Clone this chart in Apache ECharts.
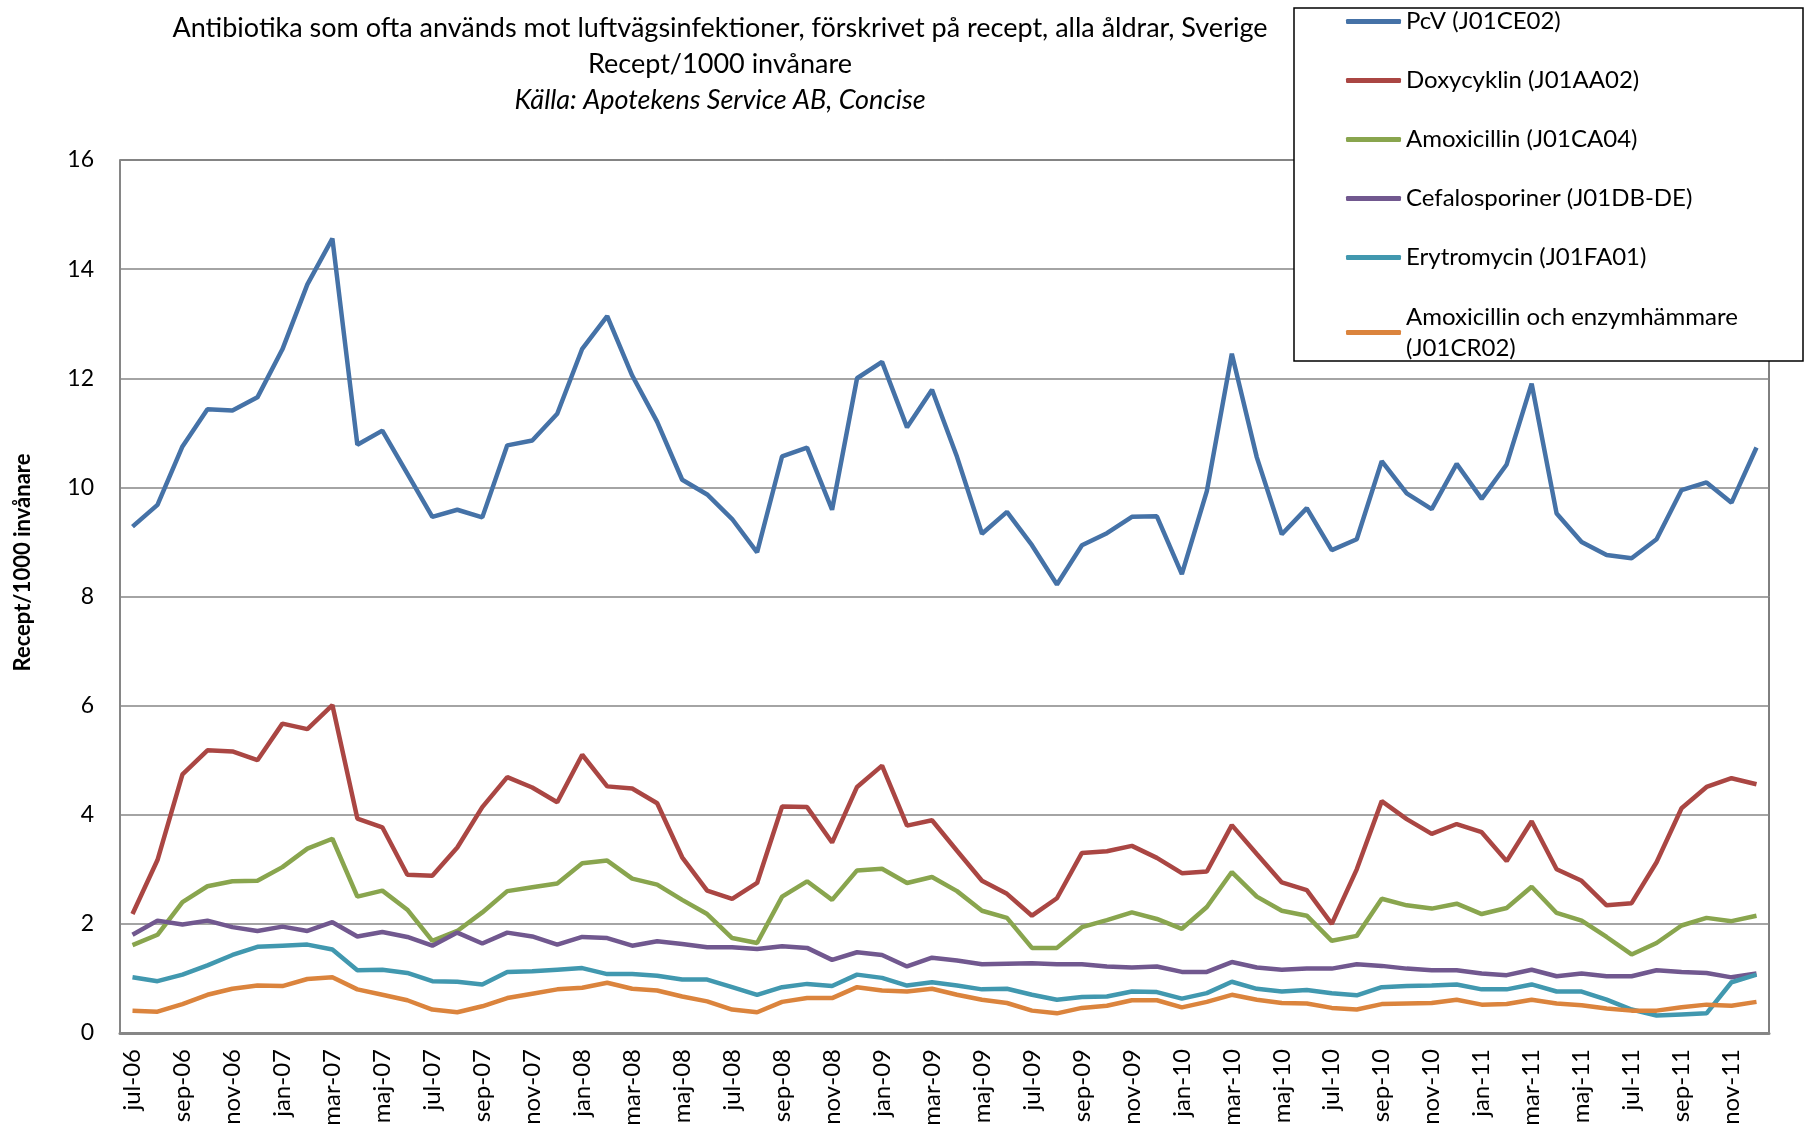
<!DOCTYPE html>
<html lang="sv">
    <head>
        <meta charset="UTF-8">
        <title>Antibiotika mot luftvägsinfektioner</title>
        <script src="https://cdn.jsdelivr.net/npm/echarts@6/dist/echarts.min.js"></script>
        <style>
            html, body { margin: 0; padding: 0; background: #fff; }
            #chart { width: 1805px; height: 1126px; }
        </style>
    </head>
    <body>
        <div id="chart"></div>
        <script>
            // månader jul-06 .. dec-11
            var months = [
                'jul-06','aug-06','sep-06','okt-06','nov-06','dec-06',
                'jan-07','feb-07','mar-07','apr-07','maj-07','jun-07','jul-07','aug-07','sep-07','okt-07','nov-07','dec-07',
                'jan-08','feb-08','mar-08','apr-08','maj-08','jun-08','jul-08','aug-08','sep-08','okt-08','nov-08','dec-08',
                'jan-09','feb-09','mar-09','apr-09','maj-09','jun-09','jul-09','aug-09','sep-09','okt-09','nov-09','dec-09',
                'jan-10','feb-10','mar-10','apr-10','maj-10','jun-10','jul-10','aug-10','sep-10','okt-10','nov-10','dec-10',
                'jan-11','feb-11','mar-11','apr-11','maj-11','jun-11','jul-11','aug-11','sep-11','okt-11','nov-11','dec-11'
            ];

            var names = [
                'PcV (J01CE02)',
                'Doxycyklin (J01AA02)',
                'Amoxicillin (J01CA04)',
                'Cefalosporiner (J01DB-DE)',
                'Erytromycin (J01FA01)',
                'Amoxicillin och enzymhämmare (J01CR02)'
            ];
            var colors = ['#4572A7', '#AA4643', '#89A54E', '#71588F', '#4198AF', '#DB843D'];

            var pcv = [9.28,9.68,10.75,11.43,11.41,11.65,12.53,13.72,14.56,10.78,11.04,10.25,9.46,9.59,9.45,10.77,10.86,11.35,12.54,13.14,12.05,11.2,
                10.14,9.87,9.42,8.81,10.57,10.73,9.59,12.0,12.3,11.1,11.79,10.56,9.15,9.55,8.94,8.22,8.94,9.16,9.46,9.47,
                8.41,9.93,12.45,10.55,9.14,9.62,8.85,9.05,10.48,9.89,9.6,10.43,9.79,10.42,11.9,9.52,9.0,8.76,8.7,9.05,9.95,10.09,9.72,10.73];
            var doxy = [2.18,3.17,4.74,5.18,5.16,5.0,5.67,5.57,6.01,3.93,3.77,2.9,2.88,3.4,4.14,4.69,4.5,4.23,5.1,4.52,4.48,4.21,
                3.22,2.61,2.46,2.75,4.15,4.14,3.49,4.51,4.9,3.8,3.9,3.34,2.79,2.55,2.15,2.47,3.3,3.33,3.43,3.21,
                2.93,2.96,3.81,3.28,2.76,2.62,2.0,3.0,4.25,3.92,3.65,3.83,3.68,3.15,3.88,3.0,2.79,2.34,2.38,3.13,4.12,4.51,4.67,4.56];
            var amox = [1.61,1.8,2.4,2.69,2.78,2.79,3.04,3.38,3.56,2.5,2.61,2.26,1.69,1.87,2.21,2.6,2.67,2.74,3.11,3.16,2.83,2.72,
                2.44,2.18,1.74,1.65,2.5,2.78,2.44,2.98,3.01,2.75,2.86,2.6,2.24,2.11,1.56,1.56,1.94,2.07,2.21,2.09,
                1.91,2.31,2.95,2.5,2.24,2.15,1.69,1.78,2.46,2.34,2.28,2.37,2.18,2.29,2.68,2.2,2.06,1.76,1.44,1.65,1.97,2.11,2.05,2.15];
            var cefa = [1.8,2.06,1.99,2.06,1.94,1.87,1.95,1.87,2.03,1.77,1.85,1.76,1.6,1.84,1.64,1.84,1.77,1.62,1.76,1.74,1.6,1.68,
                1.63,1.57,1.57,1.54,1.59,1.56,1.34,1.48,1.43,1.22,1.38,1.33,1.26,1.27,1.28,1.26,1.26,1.22,1.2,1.22,
                1.12,1.12,1.3,1.2,1.16,1.18,1.18,1.26,1.23,1.18,1.15,1.15,1.09,1.06,1.16,1.04,1.09,1.04,1.04,1.15,1.12,1.1,1.02,1.09];
            var ery = [1.02,0.95,1.07,1.24,1.43,1.58,1.6,1.62,1.53,1.15,1.16,1.1,0.95,0.94,0.89,1.12,1.13,1.16,1.19,1.08,1.08,1.05,
                0.98,0.98,0.84,0.7,0.84,0.9,0.86,1.07,1.01,0.87,0.93,0.87,0.8,0.81,0.7,0.61,0.66,0.67,0.76,0.75,
                0.63,0.73,0.94,0.81,0.76,0.79,0.73,0.69,0.84,0.86,0.87,0.89,0.8,0.8,0.89,0.76,0.76,0.61,0.43,0.32,0.34,0.36,0.93,1.07];
            var amoxEnz = [0.41,0.39,0.53,0.7,0.81,0.87,0.86,0.99,1.02,0.8,0.7,0.6,0.43,0.38,0.49,0.64,0.72,0.8,0.83,0.92,0.81,0.78,
                0.67,0.58,0.43,0.38,0.57,0.64,0.64,0.84,0.78,0.76,0.81,0.7,0.61,0.55,0.41,0.36,0.46,0.5,0.6,0.6,
                0.47,0.57,0.7,0.61,0.55,0.54,0.46,0.43,0.53,0.54,0.55,0.61,0.52,0.53,0.61,0.54,0.51,0.45,0.41,0.41,0.47,0.52,0.5,0.57];

            var seriesData = [pcv, doxy, amox, cefa, ery, amoxEnz];
            var font = 'Lato';

            var chart = echarts.init(document.getElementById('chart'), null, { renderer: 'canvas' });

            var series = seriesData.map(function (d, i) {
                return {
                    name: names[i],
                    type: 'line',
                    data: d,
                    showSymbol: false,
                    symbol: 'none',
                    lineStyle: { width: 4.5, color: colors[i] },
                    itemStyle: { color: colors[i] }
                };
            });

            chart.setOption({
                animation: false,
                backgroundColor: '#fff',
                title: {
                    text: 'Antibiotika som ofta används mot luftvägsinfektioner, förskrivet på recept, alla åldrar, Sverige\nRecept/1000 invånare',
                    subtext: 'Källa: Apotekens Service AB, Concise',
                    left: 720,
                    top: 10,
                    textAlign: 'center',
                    padding: 0,
                    itemGap: 0,
                    textStyle: { fontFamily: font, fontSize: 27, fontWeight: 'normal', color: '#000', lineHeight: 36 },
                    subtextStyle: { fontFamily: font, fontSize: 27, fontStyle: 'italic', color: '#000', lineHeight: 36 }
                },
                // ramen runt förklaringen
                graphic: [{
                    type: 'rect',
                    z: 100,
                    shape: { x: 1294, y: 8, width: 509, height: 353 },
                    style: { fill: '#fff', stroke: '#000', lineWidth: 1.5 }
                }],
                legend: [{
                    data: names.slice(0, 5),
                    orient: 'vertical',
                    left: 1346,
                    top: 6,
                    padding: 0,
                    itemGap: 28,
                    itemWidth: 55,
                    itemHeight: 5,
                    icon: 'roundRect',
                    z: 200,
                    textStyle: { fontFamily: font, fontSize: 24, color: '#000', lineHeight: 31 }
                }, {
                    data: names.slice(5),
                    orient: 'vertical',
                    left: 1346,
                    top: 286,
                    padding: 0,
                    itemWidth: 55,
                    itemHeight: 5,
                    icon: 'roundRect',
                    z: 200,
                    formatter: function (n) { return n.replace(' (', '\n('); },
                    textStyle: { fontFamily: font, fontSize: 24, color: '#000', lineHeight: 31, padding: [31, 0, 0, 0] }
                }],
                grid: {
                    left: 120, right: 36, top: 160, bottom: 93,
                    outerBoundsMode: 'none',
                    show: true, borderColor: '#000', borderWidth: 1
                },
                xAxis: {
                    type: 'category',
                    data: months,
                    boundaryGap: true,
                    axisLine: { lineStyle: { color: '#868686', width: 3 } },
                    axisTick: { show: false },
                    axisLabel: { interval: 1, rotate: 90, fontFamily: font, fontSize: 24, color: '#000', margin: 16 }
                },
                yAxis: {
                    type: 'value',
                    min: 0, max: 16, interval: 2,
                    name: 'Recept/1000 invånare',
                    nameLocation: 'middle',
                    nameGap: 86,
                    nameTextStyle: { fontFamily: font, fontSize: 22, fontWeight: 'bold', color: '#000', padding: [0, 0, 0, 68] },
                    axisLine: { show: true, lineStyle: { color: '#868686', width: 2 } },
                    axisTick: { show: false },
                    splitLine: { lineStyle: { color: '#868686', width: 1.5 } },
                    axisLabel: { fontFamily: font, fontSize: 23, color: '#000', margin: 26 }
                },
                series: series
            });
        </script>
    </body>
</html>
